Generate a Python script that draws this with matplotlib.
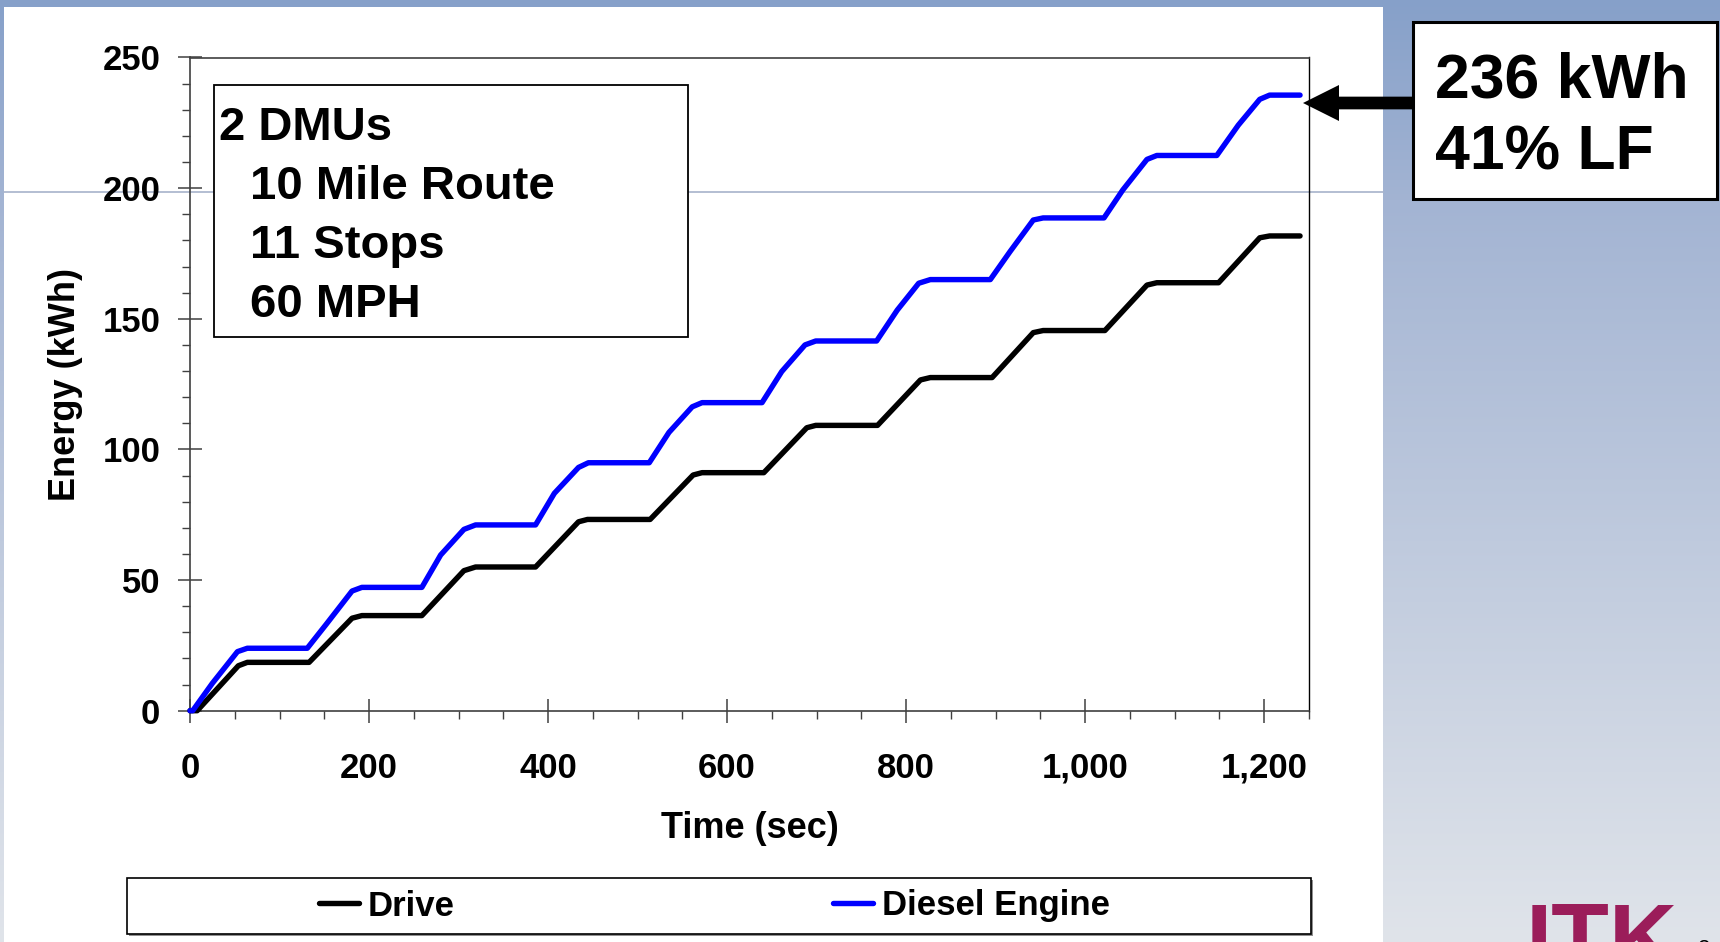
import matplotlib
matplotlib.use("Agg")
import matplotlib.pyplot as plt
import numpy as np
from matplotlib.patches import Rectangle, FancyArrow
from matplotlib.lines import Line2D
from matplotlib.transforms import Affine2D
from matplotlib.ticker import MultipleLocator, FuncFormatter

# time (sec) and cumulative energy (kWh)
drive_t = [0, 8, 54, 64, 133, 181, 192, 259, 306, 319, 386, 434, 444, 514, 562, 572,
           641, 689, 699, 768, 816, 827, 896, 942, 953, 1022, 1069, 1080, 1149, 1195, 1206, 1240]
drive_kwh = [0, 0, 17.2, 18.5, 18.5, 35.4, 36.4, 36.4, 53.6, 55.0, 55.0, 72.3, 73.2, 73.2, 90.2, 91.1,
             91.1, 108.3, 109.2, 109.2, 126.6, 127.5, 127.5, 144.7, 145.5, 145.5, 162.9, 163.8, 163.8,
             181.0, 181.7, 181.7]

diesel_t = [0, 3, 25, 53, 64, 131, 152, 181, 192, 259, 280, 306, 319, 386, 407, 434, 445, 513,
            535, 561, 572, 639, 661, 687, 699, 767, 790, 814, 827, 894, 916, 942, 953, 1021,
            1042, 1069, 1080, 1147, 1171, 1195, 1206, 1240]
diesel_kwh = [0, 0, 10.5, 22.6, 23.9, 23.9, 33.0, 45.8, 47.2, 47.2, 59.6, 69.4, 71.1, 71.1, 83.2,
              93.1, 94.9, 94.9, 106.5, 116.3, 117.9, 117.9, 129.8, 140.0, 141.5, 141.5, 153.3,
              163.6, 165.0, 165.0, 175.7, 187.8, 188.6, 188.6, 199.3, 211.0, 212.5, 212.5, 224.1,
              234.0, 235.6, 235.6]

series_labels = ["Drive", "Diesel Engine"]
info_lines = ["2 DMUs", "10 Mile Route", "11 Stops", "60 MPH"]
callout_lines = ["236 kWh", "41% LF"]

W, H = 1720, 942
plt.rcParams["font.family"] = ["Liberation Sans", "DejaVu Sans"]
plt.rcParams["font.weight"] = "bold"
plt.rcParams["axes.labelweight"] = "bold"

fig = plt.figure(figsize=(W / 100, H / 100), dpi=100)
# pixel coordinates measured from the top-left corner
px = Affine2D().scale(1 / W, -1 / H).translate(0, 1) + fig.transFigure

# slide background gradient
bg = fig.add_axes([0, 0, 1, 1], zorder=-10)
stop_y = [0, 200, H]
stop_c = np.array([[134, 160, 201], [163, 180, 211], [224, 228, 234]]) / 255
yy = np.arange(H)
grad = np.stack([np.interp(yy, stop_y, stop_c[:, i]) for i in range(3)], axis=1)
bg.imshow(grad[:, None, :], aspect="auto", extent=[0, 1, 0, 1])
bg.axis("off")

fig.add_artist(Rectangle((4, 7), 1379, 960, transform=px, facecolor="white",
                         edgecolor="none", zorder=-5))
fig.add_artist(Line2D([4, 1383], [191.5, 191.5], transform=px, color="#a7b3cb",
                      lw=1.2, zorder=-4))

ax = fig.add_axes([190 / W, 1 - 710.7 / H, 1119 / W, 653.2 / H], facecolor="none")
ax.plot(drive_t, drive_kwh, color="black", lw=3.9, label=series_labels[0],
        solid_capstyle="round", solid_joinstyle="round", clip_on=False, zorder=3)
ax.plot(diesel_t, diesel_kwh, color="#0000ff", lw=3.9, label=series_labels[1],
        solid_capstyle="round", solid_joinstyle="round", clip_on=False, zorder=3)

ax.set_xlim(0, 1250)
ax.set_ylim(0, 250)
ax.xaxis.set_major_locator(MultipleLocator(200))
ax.xaxis.set_minor_locator(MultipleLocator(50))
ax.yaxis.set_major_locator(MultipleLocator(50))
ax.yaxis.set_minor_locator(MultipleLocator(10))
ax.xaxis.set_major_formatter(FuncFormatter(lambda v, p: f"{v:,.0f}"))

ax.tick_params(which="major", direction="inout", length=17, width=1.1,
               color="#404040", labelsize=25)
ax.tick_params(which="minor", direction="out", length=6, width=1.0, color="#404040")
ax.tick_params(axis="x", which="major", pad=21)
ax.tick_params(axis="y", which="major", pad=13)
for s in ax.spines.values():
    s.set_color("#404040")
    s.set_linewidth(1.2)
ax.spines["right"].set_color("black")
ax.spines["right"].set_linewidth(1.0)

ax.set_xlabel("Time (sec)", fontsize=26, labelpad=19)
ax.set_ylabel("Energy (kWh)", fontsize=26, labelpad=14)

# info box
fig.add_artist(Rectangle((214, 85), 474, 252, transform=px, facecolor="white",
                         edgecolor="black", lw=1.3, zorder=4))
for i, line in enumerate(info_lines):
    fig.text(219 if i == 0 else 250, 140 + i * 59, line, transform=px, fontsize=34,
             ha="left", va="baseline", zorder=5)

# callout box with arrow
fig.add_artist(Rectangle((1413, 22), 304, 177, transform=px, facecolor="white",
                         edgecolor="black", lw=2.2, zorder=4))
for i, line in enumerate(callout_lines):
    fig.text(1435, 98 + i * 72, line, transform=px, fontsize=45,
             ha="left", va="baseline", zorder=5)
fig.add_artist(FancyArrow(1413, 103, -110, 0, width=12.7, head_width=36, head_length=36,
                          length_includes_head=True, transform=px, color="black",
                          lw=0, zorder=5))

# legend box
fig.add_artist(Rectangle((129, 880), 1184, 56, transform=px, facecolor="#909090",
                         edgecolor="none", zorder=3))
fig.add_artist(Rectangle((127, 878), 1184, 56, transform=px, facecolor="white",
                         edgecolor="black", lw=1.2, zorder=4))
handles, labels = ax.get_legend_handles_labels()
leg = fig.legend(handles, labels, loc="center left", bbox_to_anchor=(319, 906),
                 bbox_transform=px, ncol=2, frameon=False, fontsize=25,
                 handlelength=1.15, handletextpad=0.25, columnspacing=10.9,
                 borderpad=0, borderaxespad=0)
leg.set_zorder(6)

# logo and page number, cut off by the bottom edge as on the slide
fig.text(1526, 970, "ITK", transform=px, fontsize=68, color="#9b1d5a",
         ha="left", va="baseline")
fig.text(1698, 955, "2", transform=px, fontsize=16, fontweight="normal",
         ha="left", va="baseline")

fig.savefig("out.png", dpi=100)
